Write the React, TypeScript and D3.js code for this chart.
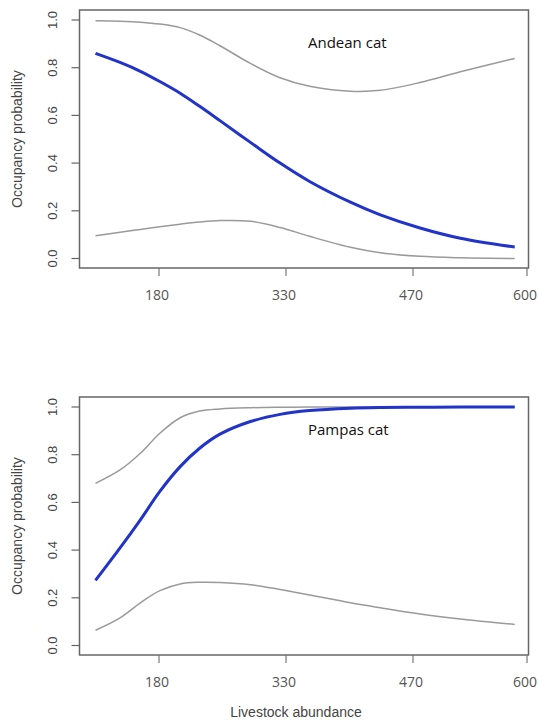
import { useEffect, useRef } from "react";
import * as d3 from "d3";

// livestock abundance at which the fitted curves were read
const abundance = [105, 134, 158, 181, 205, 228, 252, 288, 323, 356, 401, 434, 478, 524, 586];

const andeanMean = [0.86, 0.822, 0.785, 0.742, 0.693, 0.638, 0.578, 0.487, 0.4, 0.323, 0.236, 0.183, 0.128, 0.085, 0.048];
const andeanUpper = [0.997, 0.995, 0.991, 0.983, 0.968, 0.937, 0.892, 0.818, 0.758, 0.722, 0.701, 0.705, 0.738, 0.783, 0.839];
const andeanLower = [0.095, 0.11, 0.122, 0.133, 0.144, 0.153, 0.159, 0.156, 0.13, 0.093, 0.047, 0.024, 0.009, 0.003, 0.0];

const pampasMean = [0.273, 0.409, 0.527, 0.646, 0.75, 0.827, 0.886, 0.939, 0.969, 0.985, 0.995, 0.998, 0.999, 1.0, 1.0];
const pampasUpper = [0.68, 0.736, 0.806, 0.89, 0.955, 0.983, 0.992, 0.997, 0.999, 1.0, 1.0, 1.0, 1.0, 1.0, 1.0];
const pampasLower = [0.064, 0.116, 0.179, 0.23, 0.258, 0.265, 0.264, 0.255, 0.235, 0.212, 0.179, 0.158, 0.132, 0.111, 0.088];

const xTicks = [180, 330, 470, 600];
const yTicks = [0, 0.2, 0.4, 0.6, 0.8, 1.0];

const blue = "#2133c9";
const grey = "#9a9a9a";

const Panel = ({ top, label, mean, upper, lower }) => {
  const gRef = useRef(null);

  useEffect(() => {
    const g = d3.select(gRef.current);
    g.selectAll("*").remove();

    const box = { left: 79.5, right: 528.5, top: top, bottom: top + 258 };

    // the published axis is not evenly spaced, so map ticks piecewise
    const x = d3.scaleLinear().domain(xTicks).range([159, 286, 413, 527]);
    const y = d3
      .scaleLinear()
      .domain([0, 1])
      .range([box.bottom - 9.5, box.top + 10]);

    const line = (vals) =>
      d3
        .line()
        .x((d, i) => x(abundance[i]))
        .y((d) => y(d))
        .curve(d3.curveCatmullRom.alpha(0.5))(vals);

    g.append("path")
      .attr("d", line(upper))
      .attr("fill", "none")
      .attr("stroke", grey)
      .attr("stroke-width", 1.5);
    g.append("path")
      .attr("d", line(lower))
      .attr("fill", "none")
      .attr("stroke", grey)
      .attr("stroke-width", 1.5);
    g.append("path")
      .attr("d", line(mean))
      .attr("fill", "none")
      .attr("stroke", blue)
      .attr("stroke-width", 3);

    g.append("rect")
      .attr("x", box.left)
      .attr("y", box.top)
      .attr("width", box.right - box.left)
      .attr("height", box.bottom - box.top)
      .attr("fill", "none")
      .attr("stroke", "#666")
      .attr("stroke-width", 1.5);

    // y axis
    const ya = g.append("g");
    yTicks.forEach((t) => {
      ya.append("line")
        .attr("x1", box.left - 8)
        .attr("x2", box.left)
        .attr("y1", y(t))
        .attr("y2", y(t))
        .attr("stroke", "#666")
        .attr("stroke-width", 1.2);
      ya.append("text")
        .attr("transform", `translate(57,${y(t)}) rotate(-90)`)
        .attr("text-anchor", "middle")
        .attr("font-family", "Liberation Sans, Arial, sans-serif")
        .attr("font-size", 13)
        .attr("fill", "#444")
        .text(t.toFixed(1));
    });
    ya.append("text")
      .attr("transform", `translate(22,${(box.top + box.bottom) / 2}) rotate(-90)`)
      .attr("text-anchor", "middle")
      .attr("font-family", "Liberation Sans, Arial, sans-serif")
      .attr("font-size", 14)
      .attr("fill", "#444")
      .text("Occupancy probability");

    // x axis
    const xa = g.append("g");
    xTicks.forEach((t) => {
      xa.append("line")
        .attr("x1", x(t))
        .attr("x2", x(t))
        .attr("y1", box.bottom)
        .attr("y2", box.bottom + 8)
        .attr("stroke", "#777")
        .attr("stroke-width", 1.2);
      xa.append("text")
        .attr("x", x(t) - 2)
        .attr("y", box.bottom + 32)
        .attr("text-anchor", "middle")
        .attr("font-family", "Open Sans, sans-serif")
        .attr("font-size", 14)
        .attr("fill", "#555")
        .text(t);
    });

    g.append("text")
      .attr("x", 308)
      .attr("y", box.top + 38)
      .attr("font-family", "Open Sans, sans-serif")
      .attr("font-size", 15)
      .attr("fill", "#111")
      .text(label);
  }, [top, label, mean, upper, lower]);

  return <g ref={gRef} />;
};

export default function App() {
  return (
    <svg
      width={539}
      height={727}
      style={{ position: "absolute", left: 0, top: 0, background: "#fff" }}
    >
      <rect width={539} height={727} fill="#fff" />
      <Panel top={10} label="Andean cat" mean={andeanMean} upper={andeanUpper} lower={andeanLower} />
      <Panel top={397} label="Pampas cat" mean={pampasMean} upper={pampasUpper} lower={pampasLower} />
      <text
        x={296}
        y={717}
        textAnchor="middle"
        fontFamily="Liberation Sans, Arial, sans-serif"
        fontSize={14}
        fill="#444"
      >
        Livestock abundance
      </text>
    </svg>
  );
}
